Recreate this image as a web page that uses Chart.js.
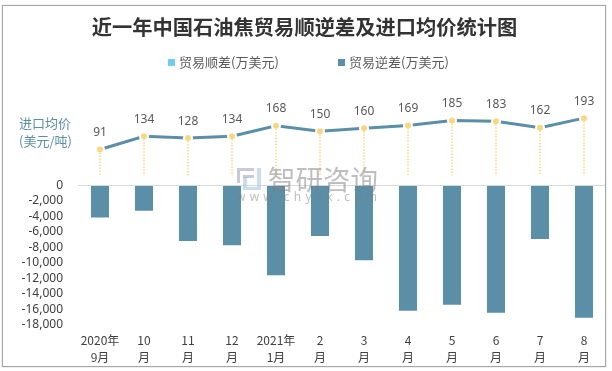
<!DOCTYPE html>
<html>
<head>
<meta charset="utf-8">
<title>近一年中国石油焦贸易顺逆差及进口均价统计图</title>
<script src="https://cdn.jsdelivr.net/npm/chart.js@4"></script>
<style>
    html, body { margin: 0; padding: 0; background: #fff; }
    #wrap { position: relative; width: 612px; height: 371px; }
    #frame { position: absolute; left: 2px; top: 5px; width: 602px; height: 360px; border: 1px solid #a6a6a6; box-shadow: 0 0 1px #a6a6a6; pointer-events: none; }
</style>
</head>
<body>
<div id="wrap">
    <canvas id="chart" width="612" height="371"></canvas>
    <div id="frame"></div>
</div>
<script>
var months = [["2020年", "9月"], ["10", "月"], ["11", "月"], ["12", "月"], ["2021年", "1月"], ["2", "月"], ["3", "月"], ["4", "月"], ["5", "月"], ["6", "月"], ["7", "月"], ["8", "月"]];
var surplus = [0, 0, 0, 0, 0, 0, 0, 0, 0, 0, 0, 0];
var deficit = [-4130, -3260, -7170, -7700, -11600, -6520, -9650, -16170, -15390, -16430, -6910, -17090];
var price = [91, 134, 128, 134, 168, 150, 160, 169, 185, 183, 162, 193];

var FONT = '"Noto Sans", "Noto Sans CJK SC", sans-serif';
var CJK = '"Noto Sans CJK SC", "Noto Sans", sans-serif';

// drop lines, price labels, legend, side label, watermark
var extras = {
    id: "extras",
    afterDatasetsDraw: function(chart) {
        var c = chart.ctx;
        var pts = chart.getDatasetMeta(2).data;
        var base = chart.scales.y2.getPixelForValue(6);

        c.save();
        // gap in the line around each point
        c.fillStyle = "#fff";
        pts.forEach(function(p) {
            c.beginPath();
            c.arc(p.x, p.y, 5, 0, Math.PI * 2);
            c.fill();
        });

        c.strokeStyle = "#f8d77f";
        c.lineWidth = 1.5;
        c.setLineDash([1.5, 1.5]);
        pts.forEach(function(p) {
            c.beginPath();
            c.moveTo(p.x, p.y);
            c.lineTo(p.x, base);
            c.stroke();
        });
        c.setLineDash([]);

        c.fillStyle = "#f8d77f";
        pts.forEach(function(p) {
            c.beginPath();
            c.arc(p.x, p.y, 3, 0, Math.PI * 2);
            c.fill();
        });

        c.textAlign = "center";
        c.textBaseline = "middle";
        c.font = "12px " + FONT;
        c.fillStyle = "#595959";
        pts.forEach(function(p, i) {
            c.fillText(price[i], p.x, p.y - 17);
        });

        // legend
        c.textAlign = "left";
        c.fillStyle = "#6fcdf5";
        c.fillRect(168, 59, 7, 7);
        c.fillStyle = "#5b8fa8";
        c.fillRect(338, 59, 7, 7);
        c.fillStyle = "#595959";
        c.font = "13px " + CJK;
        c.fillText(chart.data.datasets[0].label, 179, 62);
        c.fillText(chart.data.datasets[1].label, 349, 62);

        // side label
        c.fillStyle = "#5b8fa8";
        c.font = "13px " + CJK;
        c.fillText("进口均价", 19, 123);
        c.fillText("(美元/吨)", 19, 141);

        // watermark
        c.fillStyle = "rgba(125,125,125,0.5)";
        c.font = "27.5px " + CJK;
        c.fillText("智研咨询", 268, 180);
        c.font = "12px " + FONT;
        c.letterSpacing = "4.2px";
        c.fillText("www.chyxx.com", 236, 198);
        c.letterSpacing = "0px";
        c.fillStyle = "rgba(150,190,225,0.5)";
        c.fillRect(257, 168, 4, 22);
        c.fillRect(243, 187, 14, 3);
        c.fillRect(243, 177, 4, 10);
        c.fillStyle = "rgba(150,150,175,0.5)";
        c.fillRect(237, 168, 17, 3);
        c.fillRect(237, 171, 3, 12);
        c.fillRect(243, 175, 11, 3);
        c.restore();
    }
};

new Chart(document.getElementById("chart"), {
    data: {
        labels: months,
        datasets: [
            { type: "bar", label: "贸易顺差(万美元)", data: surplus, backgroundColor: "#6fcdf5", yAxisID: "y", order: 2, barPercentage: 1, categoryPercentage: 0.41 },
            { type: "bar", label: "贸易逆差(万美元)", data: deficit, backgroundColor: "#5b8fa8", yAxisID: "y", order: 2, barPercentage: 1, categoryPercentage: 0.41 },
            { type: "line", label: "进口均价(美元/吨)", data: price, borderColor: "#5b8fa8", borderWidth: 3, pointRadius: 0, tension: 0, yAxisID: "y2", order: 1 }
        ]
    },
    options: {
        responsive: false,
        animation: false,
        layout: { padding: { left: 3, right: 6, top: 0, bottom: -2 } },
        plugins: {
            legend: { display: false },
            tooltip: { enabled: false },
            title: {
                display: true,
                text: "近一年中国石油焦贸易顺逆差及进口均价统计图",
                color: "#333333",
                font: { family: CJK, size: 20.25, weight: "bold" },
                padding: { top: 15, bottom: 30 }
            }
        },
        scales: {
            x: {
                stacked: true,
                grid: { display: false, drawTicks: false },
                border: { display: false },
                ticks: { color: "#404040", font: { family: CJK, size: 12, lineHeight: 1.42 }, maxRotation: 0, autoSkip: false, padding: 7 }
            },
            y: {
                stacked: true,
                min: -18000,
                max: 15000,
                afterFit: function(axis) { axis.width = 75; },
                grid: {
                    drawTicks: false,
                    color: function(ctx) { return ctx.tick.value === 0 ? "#d9d9d9" : "transparent"; }
                },
                border: { display: false },
                ticks: {
                    stepSize: 1000,
                    autoSkip: false,
                    padding: 15,
                    color: "#404040",
                    font: { family: FONT, size: 12 },
                    callback: function(v) {
                        if (v > 0 || v % 2000 !== 0) return "";
                        return v.toLocaleString("en-US");
                    }
                }
            },
            y2: { display: false, min: -480, max: 352 }
        }
    },
    plugins: [extras]
});
</script>
</body>
</html>
